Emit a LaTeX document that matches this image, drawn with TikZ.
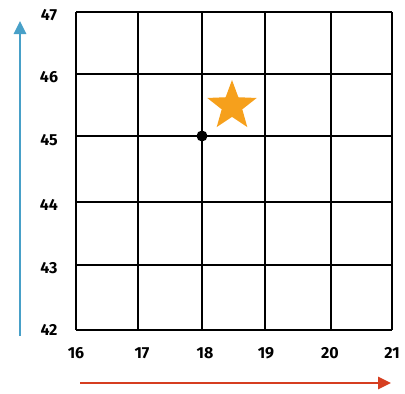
\documentclass[tikz,border=0pt]{standalone}
\usepackage{fontspec}
\setmainfont{Fira Sans}
\usepackage{tikz}
\usetikzlibrary{positioning,arrows.meta,shapes.geometric}

\begin{document}
\begin{tikzpicture}[x=1pt, y=-1pt, font=\fontsize{16}{16}\selectfont\bfseries,
  gridline/.style={line width=2.7pt, black},
  axisarrow/.style={line width=2.6pt, -{Triangle[length=13pt, width=12pt]}},
  ticklabel/.style={inner sep=1pt}]
  \useasboundingbox (0,0) rectangle (405,394);
  % grid lines (hand drawn, slightly uneven)
  \foreach \x in {76,138,202,265,331,392} \draw[gridline] (\x,12) -- (\x,330);
  \foreach \y in {12,74,136,202,265,330} \draw[gridline] (76,\y) -- (392,\y);
  % axis labels
  \foreach \y/\v in {15/47,77/46,140/45,205/44,268/43,330/42}
    \node[ticklabel] (lat\v) at (49,\y) {\v};
  \foreach \x/\v in {76/16,142/17,205/18,266/19,330/20,392/21}
    \node[ticklabel] (lon\v) at (\x,353) {\v};
  % arrows
  \coordinate (nstart) at (20,336);
  \coordinate (nend) at (20,21);
  \coordinate (estart) at (80,383);
  \coordinate (eend) at (391,383);
  \draw[axisarrow, color={rgb,255:red,72;green,160;blue,200}] (nstart) -- (nend);
  \draw[axisarrow, color={rgb,255:red,214;green,62;blue,32}] (estart) -- (eend);
  % point and star
  \node[circle, fill=black, minimum size=11pt, inner sep=0pt] (pt) at (202,136) {};
  \node[star, star points=5, star point ratio=2.4, fill={rgb,255:red,246;green,160;blue,28},
    minimum size=52pt, inner sep=0pt] (target) at (232,106) {};
\end{tikzpicture}
\end{document}
